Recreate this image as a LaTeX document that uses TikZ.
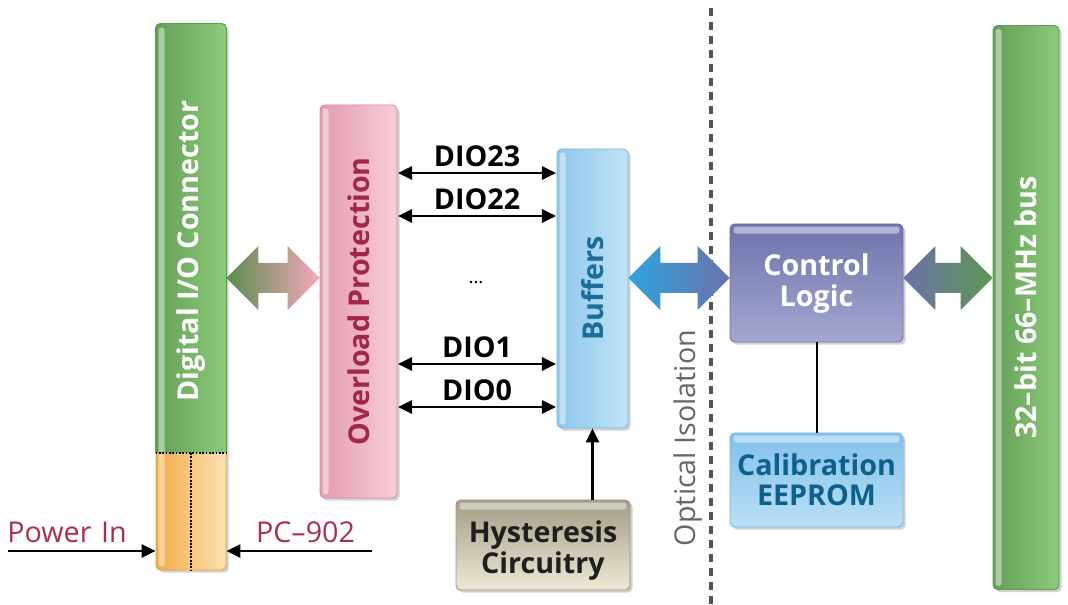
\documentclass[tikz,border=0pt]{standalone}
\usepackage{fontspec}
\setmainfont{Open Sans}
\usetikzlibrary{arrows.meta,shadows,calc}
\definecolor{grL}{HTML}{659F57}
\definecolor{grR}{HTML}{8CCB7A}
\definecolor{grB}{HTML}{5E9A50}
\definecolor{orL}{HTML}{F0AC48}
\definecolor{orR}{HTML}{FCE2B4}
\definecolor{orB}{HTML}{E9A232}
\definecolor{pkL}{HTML}{E29CB0}
\definecolor{pkR}{HTML}{F8CDD8}
\definecolor{pkB}{HTML}{D98DA3}
\definecolor{pkT}{HTML}{A2264B}
\definecolor{buL}{HTML}{8EC7EB}
\definecolor{buR}{HTML}{C2E3F6}
\definecolor{buB}{HTML}{7AB8E0}
\definecolor{buT}{HTML}{1A6E9C}
\definecolor{cuT}{HTML}{6E74AC}
\definecolor{cuB}{HTML}{A4A7D0}
\definecolor{cuD}{HTML}{6A70A6}
\definecolor{eeT}{HTML}{82C1EA}
\definecolor{eeB}{HTML}{BADFF4}
\definecolor{eeX}{HTML}{0E5F8C}
\definecolor{hyT}{HTML}{A59C86}
\definecolor{hyB}{HTML}{EEE8D6}
\definecolor{hyD}{HTML}{9E967F}
\definecolor{redT}{HTML}{A8304A}
\definecolor{arG}{HTML}{5A8C4E}
\definecolor{arP}{HTML}{F5A9BC}
\definecolor{arB}{HTML}{2EA3DC}
\definecolor{arV}{HTML}{6C72AB}
\definecolor{arG2}{HTML}{5D9652}
\tikzset{
  >={Triangle[length=10.5pt,width=10pt]},
  box/.style={draw, rounded corners=3.5pt, line width=0.7pt, inner sep=0pt,
    drop shadow={shadow xshift=2pt, shadow yshift=-2pt, fill=black!18, opacity=1},
    font=\fontsize{21.5}{22.5}\selectfont\bfseries, align=center},
  lbl/.style={font=\fontsize{21.5}{22.5}\selectfont\bfseries, inner sep=0pt},
  dio/.style={line width=1.6pt, <->, shorten <=0.5pt, shorten >=0.5pt},
  hl/.style={fill=white, opacity=0.45, rounded corners=2pt},
  dots/.style={line width=1.4pt, dash pattern=on 1.4pt off 1.1pt},
  plain/.style={font=\fontsize{21.5}{22.5}\selectfont, inner sep=0pt}
}
\newcommand\dblarrow[4]{%
  \path[left color=#3, right color=#4] let \p1=(#1), \p2=(#2) in
    (\x1,\y1) -- (\x1+24pt,\y1+24pt) -- (\x1+24pt,\y1+11.25pt) -- (\x2-24pt,\y1+11.25pt)
    -- (\x2-24pt,\y1+24pt) -- (\x2,\y1) -- (\x2-24pt,\y1-24pt) -- (\x2-24pt,\y1-11.25pt)
    -- (\x1+24pt,\y1-11.25pt) -- (\x1+24pt,\y1-24pt) -- cycle;}
\newcommand\lowered[2]{\raisebox{-#1}[\height][\depth]{#2}}
\begin{document}
\begin{tikzpicture}[x=0.75pt,y=-0.75pt]
\useasboundingbox[fill=white] (0,0) rectangle (1068,605);

% helper coordinates
\coordinate (split) at (0,453);
\coordinate (ya) at (0,278);
\coordinate (r23) at (0,173);
\coordinate (r22) at (0,216);
\coordinate (r1) at (0,364);
\coordinate (r0) at (0,407);
\coordinate (rp) at (0,551);
\coordinate (dtop) at (711,8);
\coordinate (dbot) at (711,605);

% dashed isolation line
\draw[line width=3pt, color=black!68, dash pattern=on 6pt off 4.5pt] (dtop) -- (dbot);

% Digital I/O connector bar
\node[box, draw=orB, left color=orL, right color=orR, minimum width=52.5pt, minimum height=409.5pt] (conn) at (191,297) {};
\begin{scope}
\clip[rounded corners=3.5pt] (conn.north west) rectangle (conn.south east);
\shade[left color=grL, right color=grR] (conn.north west) rectangle (conn.east |- split);
\end{scope}
\draw[grB, line width=0.7pt, rounded corners=3.5pt] (conn.west |- split) -- (conn.north west) -- (conn.north east) -- (conn.east |- split);
\fill[hl] ($(conn.north west)+(3,4)$) rectangle ($(conn.south west)+(9,-4)$);
\draw[dots] (conn.west |- split) -- (conn.east |- split);
\draw[dots] (conn.south |- split) -- (conn.south);
\node[lbl, white] (connlbl) at (191,251) {\rotatebox{90}{Digital I/O Connector}};

% Overload protection
\node[box, draw=pkB, left color=pkL, right color=pkR, text=pkT, minimum width=57.75pt, minimum height=294.75pt] (ovl) at (358.5,301.5) {\rotatebox{90}{Overload Protection}};
\fill[hl] ($(ovl.north west)+(3,4)$) rectangle ($(ovl.south west)+(9,-4)$);

% Buffers
\node[box, draw=buB, left color=buL, right color=buR, text=buT, minimum width=53.25pt, minimum height=209.25pt] (buf) at (592.5,288.5) {\rotatebox{90}{Buffers}};
\fill[hl] ($(buf.north west)+(3,4)$) rectangle ($(buf.south west)+(9,-4)$);

% Control logic
\node[box, draw=cuD, top color=cuT, bottom color=cuB, text=white, minimum width=129.75pt, minimum height=88.5pt] (ctl) at (816.5,283) {\lowered{1.5pt}{\begin{tabular}{@{}c@{}}Control\\Logic\end{tabular}}};
\fill[hl] ($(ctl.north west)+(4,3)$) rectangle ($(ctl.north east)+(-4,10)$);

% Calibration EEPROM
\node[box, draw=buB, top color=eeT, bottom color=eeB, text=eeX, minimum width=129.75pt, minimum height=70.5pt] (eep) at (816.5,480) {Calibration\\EEPROM};
\fill[hl] ($(eep.north west)+(4,3)$) rectangle ($(eep.north east)+(-4,10)$);

% Hysteresis
\node[box, draw=hyD, top color=hyT, bottom color=hyB, text=black!88, minimum width=130.5pt, minimum height=67.5pt] (hys) at (543,545) {\lowered{5pt}{\begin{tabular}{@{}c@{}}Hysteresis\\[0.5pt]Circuitry\end{tabular}}};
\fill[hl] ($(hys.north west)+(4,3)$) rectangle ($(hys.north east)+(-4,10)$);

% bus
\node[box, draw=grB, left color=grL, right color=grR, text=white, minimum width=49.5pt, minimum height=423pt] (bus) at (1026,307.5) {\rotatebox{90}{32–bit 66–MHz bus}};
\fill[hl] ($(bus.north west)+(3,4)$) rectangle ($(bus.south west)+(9,-4)$);

% big double arrows
\dblarrow{conn.east |- ya}{ovl.west |- ya}{arG}{arP}
\dblarrow{buf.east |- ya}{ctl.west |- ya}{arB}{arV}
\dblarrow{ctl.east |- ya}{bus.west |- ya}{arV}{arG2}

% DIO lines
\draw[dio] (ovl.east |- r23) -- node[lbl, above=4pt] (l23) {DIO23} (buf.west |- r23);
\draw[dio] (ovl.east |- r22) -- node[lbl, above=4pt] (l22) {DIO22} (buf.west |- r22);
\draw[dio] (ovl.east |- r1) -- node[lbl, above=4pt] (l1) {DIO1} (buf.west |- r1);
\draw[dio] (ovl.east |- r0) -- node[lbl, above=4pt] (l0) {DIO0} (buf.west |- r0);
\node[font=\fontsize{14}{16}\selectfont] (ell) at (476,283) {...};

% hysteresis to buffers
\draw[line width=1.6pt, ->] (hys.north -| buf.south) -- (buf.south);
% control to eeprom
\draw[line width=1.5pt] (ctl.south) -- (eep.north);

% power in / PC-902
\coordinate (pinL) at (8,551);
\coordinate (pcR) at (372,551);
\draw[line width=1.6pt, ->] (pinL) -- (conn.west |- rp);
\draw[line width=1.6pt, ->] (pcR) -- (conn.east |- rp);
\node[plain, text=redT] (pwrlbl) at (67,532) {Power\,\,In};
\node[plain, text=redT] (pclbl) at (305.5,532) {PC–902};

% optical isolation
\node[plain, text=black!60] (iso) at (688,438) {\rotatebox{90}{Optical Isolation}};
\end{tikzpicture}
\end{document}
